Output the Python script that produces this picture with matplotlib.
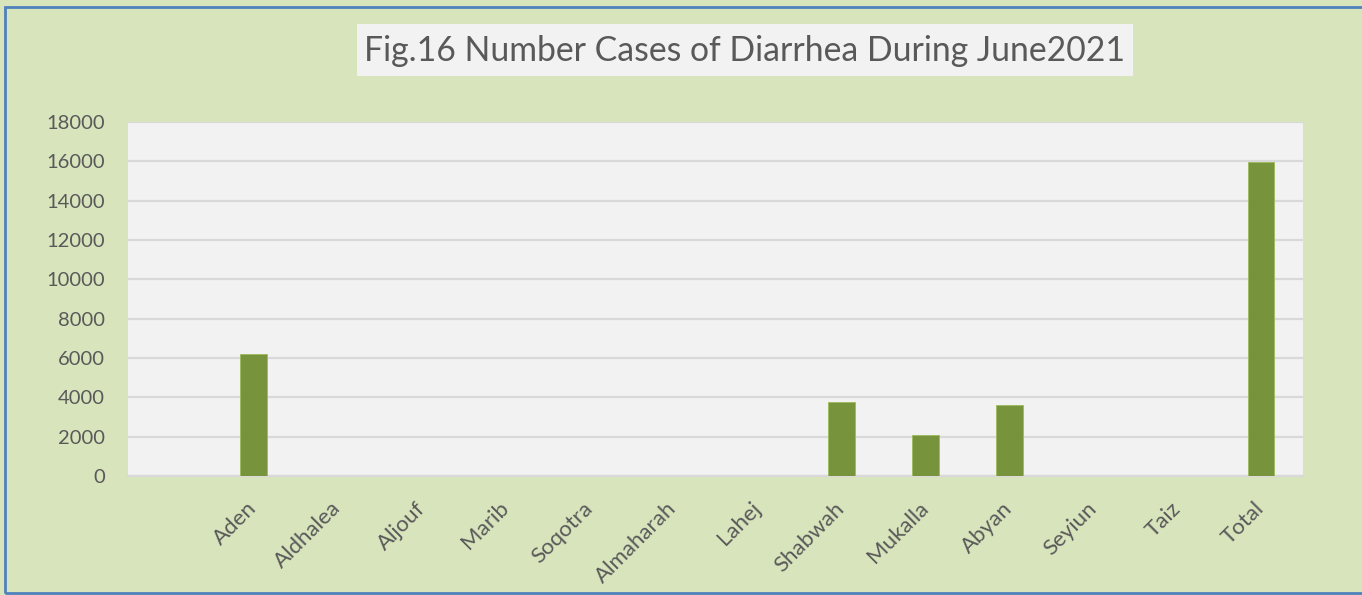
import matplotlib
matplotlib.use("Agg")
import matplotlib.pyplot as plt
from matplotlib.patches import Rectangle

# ── data ───────────────────────────────────────────────────────────────────────
categories = ["", "Aden", "Aldhalea", "Aljouf", "Marib", "Soqotra", "Almaharah",
              "Lahej", "Shabwah", "Mukalla", "Abyan", "Seyiun", "Taiz", "Total"]
cases = [0, 6190, 0, 0, 0, 0, 0, 0, 3780, 2090, 3610, 0, 0, 15960]
y_ticks = list(range(0, 18001, 2000))

# ── colours ────────────────────────────────────────────────────────────────────
BG       = "#D8E4BC"
PLOT_BG  = "#F2F2F2"
GRID     = "#D9D9D9"
BAR      = "#77933C"
BAR_EDGE = "#9BBB59"
TEXT     = "#595959"
BORDER   = "#4F81BD"

plt.rcParams["font.family"] = ["Lato", "DejaVu Sans"]

W, H = 1362, 595
fig = plt.figure(figsize=(W / 100, H / 100), dpi=100, facecolor=BG)
ax = fig.add_axes([128 / W, 1 - 476 / H, (1303 - 128) / W, (476 - 122) / H])
ax.set_facecolor(PLOT_BG)

x = list(range(len(categories)))
ax.bar(x, cases, width=0.32, color=BAR, edgecolor=BAR_EDGE, linewidth=0.6, zorder=3)

ax.set_xlim(-0.5, len(categories) - 0.5)
ax.set_ylim(0, 18000)
ax.set_yticks(y_ticks)
ax.set_yticklabels([str(v) for v in y_ticks])
ax.set_xticks(x)
ax.set_xticklabels(categories, rotation=45, ha="right", va="center",
                   rotation_mode="anchor")

ax.grid(axis="y", color=GRID, linewidth=1.6, zorder=0)
ax.set_axisbelow(True)
for side in ("top", "right", "left"):
    ax.spines[side].set_visible(False)
ax.spines["bottom"].set_color(GRID)
ax.spines["bottom"].set_linewidth(1.6)

ax.tick_params(axis="y", length=0, pad=16.5, labelsize=14.5, labelcolor=TEXT)
ax.tick_params(axis="x", length=0, pad=21, labelsize=16, labelcolor=TEXT)

# title in a light box
fig.patches.append(Rectangle((357 / W, 1 - 76 / H), (1133 - 357) / W, 52 / H,
                             transform=fig.transFigure, facecolor=PLOT_BG,
                             edgecolor="none"))
fig.text(745 / W, 1 - 51 / H, "Fig.16 Number Cases of Diarrhea During June2021",
         ha="center", va="center", fontsize=24.3, color=TEXT)

# outer border (right edge falls outside the picture)
fig.patches.append(Rectangle((5 / W, 2 / H), 1.2, 1 - 8.5 / H,
                             transform=fig.transFigure, fill=False,
                             edgecolor=BORDER, linewidth=2, clip_on=False))

fig.savefig("out.png", dpi=100, facecolor=BG)
